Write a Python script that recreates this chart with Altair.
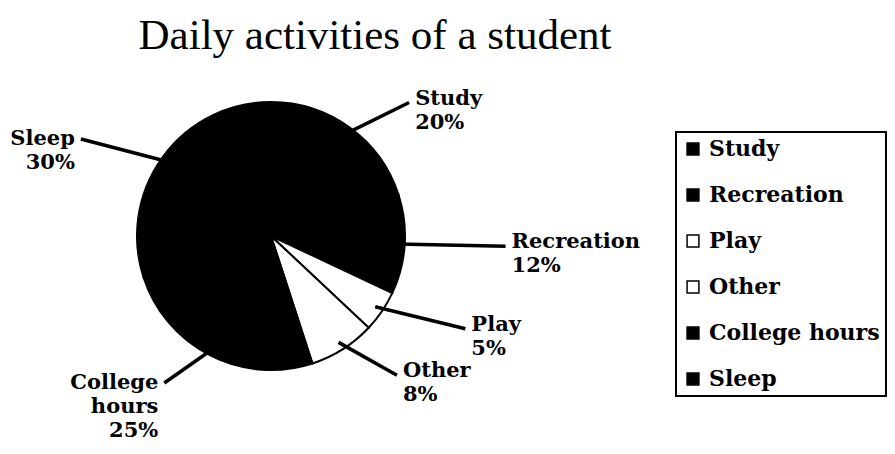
import altair as alt
import pandas as pd

# ---- data ----
activities = ["Study", "Recreation", "Play", "Other", "College hours", "Sleep"]
percents = [20, 12, 5, 8, 25, 30]
fills = ["#000000", "#000000", "#ffffff", "#ffffff", "#000000", "#000000"]
title_text = ["Daily activities of a student"]

df = pd.DataFrame({
    "activity": activities,
    "pct": percents,
    "order": list(range(len(activities))),
})

# ---- layout constants (chart coordinates) ----
CX, CY, R = 263, 228, 134     # pie centre and radius
R0 = 126                      # leader line start radius
RX, RY = 235, 165             # leader line end ellipse
SERIF_B = "DejaVu Serif"

base = alt.Chart(df)

pie = base.mark_arc(radius=R, stroke="black", strokeWidth=2).encode(
    theta=alt.Theta("pct:Q", stack=True),
    order=alt.Order("order:Q"),
    fill=alt.Fill(
        "activity:N",
        sort=activities,
        scale=alt.Scale(domain=activities, range=fills),
        legend=alt.Legend(
            title=None, orient="none", legendX=668, legendY=124,
            symbolType="square", symbolSize=140,
            symbolStrokeColor="black", symbolStrokeWidth=1.5,
            labelFont=SERIF_B, labelFontWeight="bold", labelFontSize=22,
            labelColor="black", labelLimit=400, labelOffset=5,
            rowPadding=24, padding=6,
            strokeColor="black", fillColor="white",
        ),
    ),
    x=alt.value(CX),
    y=alt.value(CY),
)

geo = (
    base.transform_window(cum="sum(pct)", sort=[alt.SortField("order")], frame=[None, 0])
    .transform_joinaggregate(total="sum(pct)")
    .transform_calculate(mid="2*PI*(datum.cum - datum.pct/2)/datum.total")
    .transform_calculate(sx="sin(datum.mid)")
    .transform_calculate(cy_="cos(datum.mid)")
    .transform_calculate(x0=f"{CX} + {R0}*datum.sx")
    .transform_calculate(y0=f"{CY} - {R0}*datum.cy_")
    .transform_calculate(x1=f"{CX} + {RX}*datum.sx")
    .transform_calculate(y1=f"{CY} - {RY}*datum.cy_")
    .transform_calculate(label="datum.activity + ' ' + datum.pct + '%'")
)

lines = geo.mark_rule(color="black", strokeWidth=3.5).encode(
    x=alt.X("x0:Q", scale=None),
    y=alt.Y("y0:Q", scale=None),
    x2="x1:Q",
    y2="y1:Q",
)

text_props = dict(font=SERIF_B, fontWeight="bold", fontSize=21, lineBreak=" ",
                  lineHeight=24, baseline="middle", color="black")

labels_right = geo.transform_filter("datum.sx > 0").mark_text(
    align="left", dx=6, dy=-4, **text_props
).encode(
    x=alt.X("x1:Q", scale=None), y=alt.Y("y1:Q", scale=None), text="label:N"
)

labels_left = geo.transform_filter("datum.sx <= 0").mark_text(
    align="right", dx=-6, **text_props
).encode(
    x=alt.X("x1:Q", scale=None), y=alt.Y("y1:Q", scale=None), text="label:N"
)

title = alt.Chart(pd.DataFrame({"t": title_text})).mark_text(
    font="Liberation Serif", fontSize=43, align="center", baseline="alphabetic",
    color="black"
).encode(text="t:N", x=alt.value(367), y=alt.value(41))

chart = alt.layer(pie, lines, labels_right, labels_left, title).properties(
    width=879, height=438, autosize="none", padding=0
).configure_view(stroke=None).configure_legend(strokeWidth=2)

chart.save("out.html", embed_options={"renderer": "svg", "actions": False})
